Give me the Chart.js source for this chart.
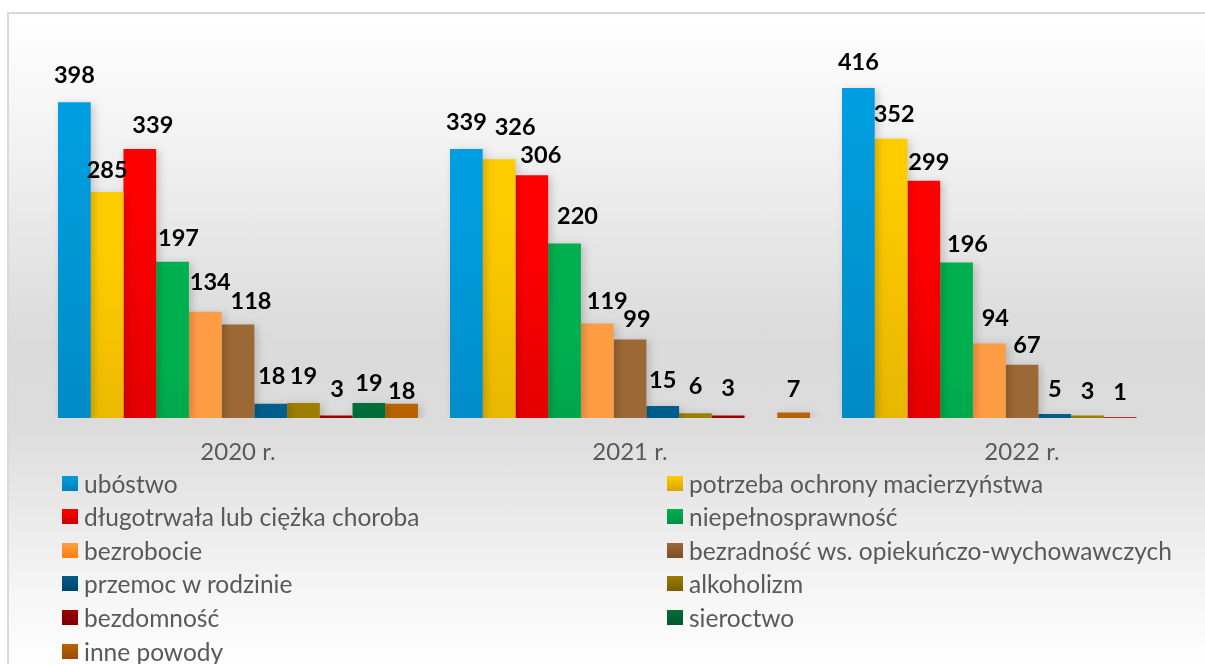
<!DOCTYPE html>
<html>
<head>
<meta charset="utf-8">
<script src="https://cdn.jsdelivr.net/npm/chart.js@4.4.1/dist/chart.umd.min.js"></script>
<style>
  html, body { margin: 0; padding: 0; width: 1205px; height: 664px; overflow: hidden; background: #fff; }
  #frame {
    position: absolute; left: 7px; top: 12px; width: 1300px; height: 660px;
    border-left: 2px solid #d9d9d9; border-top: 2px solid #d9d9d9;
    background: linear-gradient(to bottom, #ffffff 0%, #f3f3f3 18%, #dadada 50%, #dcdcdc 62%, #f6f6f6 88%, #ffffff 100%);
  }
  #wrap { position: absolute; left: 0; top: 0; width: 1260px; height: 664px; }
  #legend { position: absolute; left: 0; top: 0; width: 1205px; height: 664px; pointer-events: none; }
  .item { position: absolute; display: flex; align-items: center; font-family: Lato, "Noto Sans", sans-serif; font-size: 24.5px; color: #595959; white-space: nowrap; }
  .sw { width: 16px; height: 15px; margin-right: 6px; }
</style>
</head>
<body>
<div id="frame"></div>
<div id="wrap"><canvas id="c" width="1260" height="664"></canvas></div>
<div id="legend"></div>
<script>
// ---- data ----
const categories = ['2020 r.', '2021 r.', '2022 r.'];
const seriesNames = [
  'ubóstwo',
  'potrzeba ochrony macierzyństwa',
  'długotrwała lub ciężka choroba',
  'niepełnosprawność',
  'bezrobocie',
  'bezradność ws. opiekuńczo-wychowawczych',
  'przemoc w rodzinie',
  'alkoholizm',
  'bezdomność',
  'sieroctwo',
  'inne powody'
];
const ubostwo        = [398, 339, 416];
const macierzynstwo  = [285, 326, 352];
const choroba        = [339, 306, 299];
const niepelnospr    = [197, 220, 196];
const bezrobocie     = [134, 119, 94];
const bezradnosc     = [118, 99, 67];
const przemoc        = [18, 15, 5];
const alkoholizm     = [19, 6, 3];
const bezdomnosc     = [3, 3, 1];
const sieroctwo      = [19, null, null];
const innePowody     = [18, 7, null];
const seriesValues = [ubostwo, macierzynstwo, choroba, niepelnospr, bezrobocie, bezradnosc, przemoc, alkoholizm, bezdomnosc, sieroctwo, innePowody];

// ---- styles ----
// gradient colours (top, bottom)
const colorPairs = [
  ['#009ee0', '#0080b8'],
  ['#ffcc00', '#d6a600'],
  ['#ff0000', '#cc0000'],
  ['#00b050', '#008f45'],
  ['#ff9d45', '#ff7f0a'],
  ['#9c6836', '#7a5029'],
  ['#005e8c', '#00466b'],
  ['#9c7e00', '#775e00'],
  ['#9e0000', '#7d0000'],
  ['#006e38', '#00582b'],
  ['#b96200', '#9a4b00']
];
// manual label placement as in the original: [dx from bar centre, gap above bar top] per series, per category
const labelPlacement = [
  [[0,19],[0,19],[0,18]],
  [[0,14],[16,24],[3,17]],
  [[13,16],[9,12],[5,11]],
  [[6,16],[13,19],[11,11]],
  [[5,22],[10,15],[6,17]],
  [[13,15],[7,12],[5,12]],
  [[1,20],[0,18],[0,17]],
  [[0,19],[0,19],[0,17]],
  [[1,19],[0,20],[0,17]],
  [[0,12],[0,17],[0,17]],
  [[0,5],[0,15],[0,17]]
];

function gradFill(i) {
  return function(context) {
    const chart = context.chart;
    const area = chart.chartArea;
    if (!area) return colorPairs[i][0];
    const el = context.element;
    let top = area.top, bottom = area.bottom;
    if (el && typeof el.y === 'number' && typeof el.base === 'number') { top = el.y; bottom = el.base; }
    if (!(bottom > top)) { return colorPairs[i][1]; }
    const g = chart.ctx.createLinearGradient(0, top, 0, bottom);
    g.addColorStop(0, colorPairs[i][0]);
    g.addColorStop(1, colorPairs[i][1]);
    return g;
  };
}

const datasets = seriesNames.map((name, i) => ({
  label: name,
  data: seriesValues[i],
  backgroundColor: gradFill(i),
  borderWidth: 0,
  categoryPercentage: 360 / 392,
  barPercentage: 1.0
}));

const valueLabels = {
  id: 'valueLabels',
  afterDatasetsDraw(chart) {
    const ctx = chart.ctx;
    ctx.save();
    ctx.font = 'bold 23.5px Lato, "Noto Sans", sans-serif';
    ctx.fillStyle = '#000';
    ctx.textAlign = 'center';
    ctx.textBaseline = 'alphabetic';
    chart.data.datasets.forEach((ds, di) => {
      const meta = chart.getDatasetMeta(di);
      meta.data.forEach((bar, idx) => {
        const v = ds.data[idx];
        if (v === null || v === undefined) return;
        const p = labelPlacement[di][idx];
        ctx.fillText(String(v), bar.x + p[0], bar.y - p[1]);
      });
    });
    ctx.restore();
  }
};

const barShadow = {
  id: 'barShadow',
  beforeDatasetsDraw(chart) {
    const ctx = chart.ctx;
    ctx.save();
    ctx.shadowColor = 'rgba(0,0,0,0.18)';
    ctx.shadowBlur = 8;
    ctx.shadowOffsetX = 3;
    ctx.shadowOffsetY = 2;
  },
  afterDatasetsDraw(chart) {
    chart.ctx.restore();
  }
};

const chart = new Chart(document.getElementById('c'), {
  type: 'bar',
  data: { labels: categories, datasets },
  options: {
    responsive: false,
    animation: false,
    layout: { padding: { left: 42, right: 42, top: 61, bottom: 0 } },
    plugins: { legend: { display: false }, tooltip: { enabled: false } },
    scales: {
      x: {
        grid: { display: false, drawTicks: false },
        border: { display: false },
        ticks: { color: '#595959', font: { family: 'Lato', size: 24 }, padding: 20 }
      },
      y: {
        display: false,
        min: 0, max: 450
      }
    }
  },
  plugins: [barShadow, valueLabels]
});

// adjust bottom padding so the plot bottom sits at y = 418
(function() {
  const want = 418;
  const diff = chart.chartArea.bottom - want;
  chart.options.layout.padding.bottom = diff;
  chart.update();
})();

// HTML legend built from chart datasets
const legend = document.getElementById('legend');
const items = chart.options.plugins.legend.labels.generateLabels(chart);
items.forEach((it, i) => {
  const col = i % 2, row = Math.floor(i / 2);
  const d = document.createElement('div');
  d.className = 'item';
  d.style.left = (col === 0 ? 62 : 667) + 'px';
  d.style.top = (483 + row * 33.6 - 15) + 'px';
  d.style.height = '30px';
  const sw = document.createElement('span');
  sw.className = 'sw';
  sw.style.background = 'linear-gradient(to bottom,' + colorPairs[i][0] + ',' + colorPairs[i][1] + ')';
  const t = document.createElement('span');
  t.textContent = it.text;
  d.appendChild(sw); d.appendChild(t);
  legend.appendChild(d);
});
</script>
</body>
</html>
